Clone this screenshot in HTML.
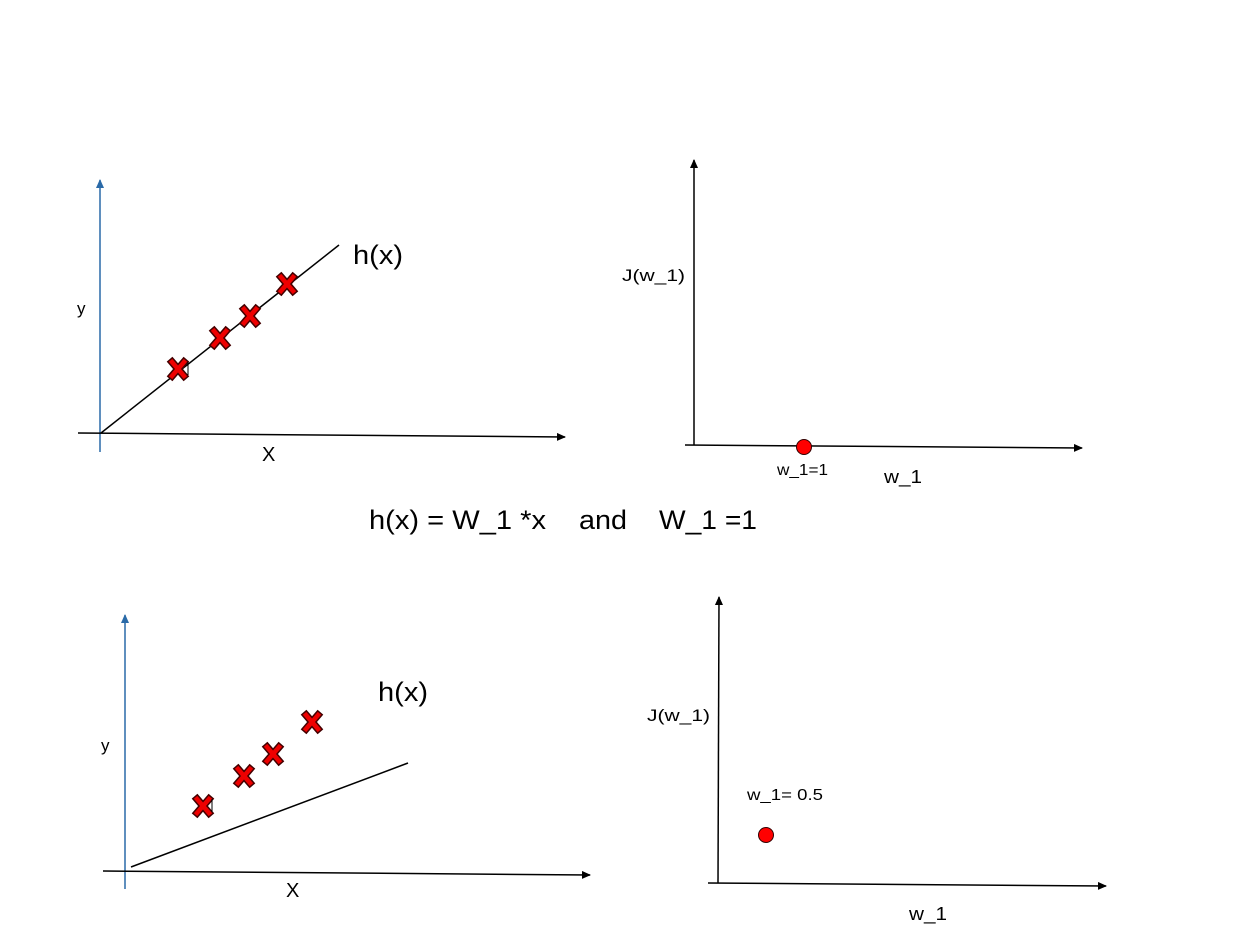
<!DOCTYPE html>
<html><head><style>body{margin:0;background:#fff}svg{display:block}text{font-family:"Liberation Sans",Arial,sans-serif;fill:#000}</style></head>
<body>
<svg width="1250" height="937" viewBox="0 0 1250 937" xmlns="http://www.w3.org/2000/svg">
<defs>
<marker id="ab" markerWidth="10" markerHeight="10" refX="8" refY="4" orient="auto" markerUnits="userSpaceOnUse"><path d="M0,0 L9,4 L0,8 z" fill="#000"/></marker>
<marker id="ablue" markerWidth="10" markerHeight="10" refX="8" refY="4" orient="auto" markerUnits="userSpaceOnUse"><path d="M0,0 L9,4 L0,8 z" fill="#2a6aa8"/></marker>
<g id="cx"><path d="M-6,-7 L6,7 M6,-7 L-6,7" stroke="#400" stroke-width="7.5" stroke-linecap="square"/><path d="M-6,-7 L6,7 M6,-7 L-6,7" stroke="#e00" stroke-width="4.5" stroke-linecap="square"/></g>
</defs>
<!-- top-left -->
<line x1="100" y1="452" x2="100" y2="180" stroke="#2a6aa8" stroke-width="1.5" marker-end="url(#ablue)"/>
<line x1="78" y1="433" x2="565" y2="437" stroke="#000" stroke-width="1.5" marker-end="url(#ab)"/>
<line x1="101" y1="433" x2="339" y2="245" stroke="#000" stroke-width="1.5"/>
<use href="#cx" x="178" y="369"/><use href="#cx" x="220" y="338"/><use href="#cx" x="250" y="316"/><use href="#cx" x="287" y="284"/>
<line x1="188" y1="362" x2="188" y2="375" stroke="#000" stroke-width="1"/>
<text x="353" y="264" font-size="27" textLength="50" lengthAdjust="spacingAndGlyphs">h(x)</text>
<text x="77" y="314" font-size="17">y</text>
<text x="262" y="461" font-size="20">X</text>
<!-- top-right -->
<line x1="694" y1="445" x2="694" y2="160" stroke="#000" stroke-width="1.5" marker-end="url(#ab)"/>
<line x1="685" y1="445" x2="1082" y2="448" stroke="#000" stroke-width="1.5" marker-end="url(#ab)"/>
<circle cx="804" cy="447" r="7.5" fill="#f00" stroke="#300" stroke-width="1"/>
<text x="622" y="281" font-size="17" textLength="63" lengthAdjust="spacingAndGlyphs">J(w_1)</text>
<text x="777" y="475" font-size="16" textLength="51" lengthAdjust="spacingAndGlyphs">w_1=1</text>
<text x="884" y="483" font-size="18" textLength="38" lengthAdjust="spacingAndGlyphs">w_1</text>
<!-- formula -->
<text x="369" y="529" font-size="27" textLength="177" lengthAdjust="spacingAndGlyphs">h(x) = W_1 *x</text>
<text x="579" y="529" font-size="27" textLength="48" lengthAdjust="spacingAndGlyphs">and</text>
<text x="659" y="529" font-size="27" textLength="98" lengthAdjust="spacingAndGlyphs">W_1 =1</text>
<!-- bottom-left -->
<line x1="125" y1="889" x2="125" y2="615" stroke="#2a6aa8" stroke-width="1.5" marker-end="url(#ablue)"/>
<line x1="103" y1="871" x2="590" y2="875" stroke="#000" stroke-width="1.5" marker-end="url(#ab)"/>
<line x1="131" y1="867" x2="408" y2="763" stroke="#000" stroke-width="1.5"/>
<use href="#cx" x="203" y="806"/><use href="#cx" x="244" y="776"/><use href="#cx" x="273" y="754"/><use href="#cx" x="312" y="722"/>
<line x1="212" y1="799" x2="212" y2="812" stroke="#000" stroke-width="1"/>
<text x="378" y="701" font-size="27" textLength="50" lengthAdjust="spacingAndGlyphs">h(x)</text>
<text x="101" y="751" font-size="17">y</text>
<text x="286" y="897" font-size="20">X</text>
<!-- bottom-right -->
<line x1="718" y1="883" x2="719" y2="597" stroke="#000" stroke-width="1.5" marker-end="url(#ab)"/>
<line x1="708" y1="883" x2="1106" y2="886" stroke="#000" stroke-width="1.5" marker-end="url(#ab)"/>
<circle cx="766" cy="835" r="7.5" fill="#f00" stroke="#300" stroke-width="1"/>
<text x="647" y="721" font-size="17" textLength="63" lengthAdjust="spacingAndGlyphs">J(w_1)</text>
<text x="747" y="800" font-size="16" textLength="76" lengthAdjust="spacingAndGlyphs">w_1= 0.5</text>
<text x="909" y="920" font-size="18" textLength="38" lengthAdjust="spacingAndGlyphs">w_1</text>
</svg>
</body></html>
